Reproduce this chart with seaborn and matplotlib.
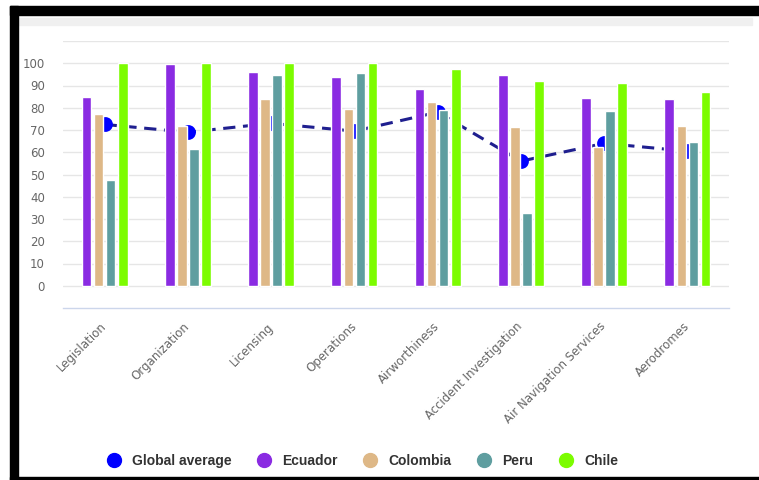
import numpy as np
import pandas as pd
import matplotlib
matplotlib.use("Agg")
import matplotlib.pyplot as plt
import seaborn as sns
from matplotlib.lines import Line2D
from matplotlib.patches import Rectangle

categories = ["Legislation", "Organization", "Licensing", "Operations",
              "Airworthiness", "Accident Investigation",
              "Air Navigation Services", "Aerodromes"]
ecuador = [85, 99.5, 96, 94, 88.5, 94.5, 84.5, 84]
colombia = [77, 72, 84, 79.5, 82.5, 71.5, 62.5, 72]
peru = [47.5, 61.5, 94.5, 95.5, 79, 32.5, 78.5, 64.5]
chile = [100, 100, 100, 100, 97.5, 92, 91, 87]
global_avg = [72.5, 69, 73, 69.5, 78, 56, 64, 60.5]

series_names = ["Ecuador", "Colombia", "Peru", "Chile"]
series_colors = ["#8a2be2", "#deb887", "#5f9ea0", "#7cfc00"]
avg_name = "Global average"
y_ticks = [0, 10, 20, 30, 40, 50, 60, 70, 80, 90, 100, 110]
y_labels = ["0", "10", "20", "30", "40", "50", "60", "70", "80", "90", "100", ""]

sns.set_style("white")
plt.rcParams["font.family"] = ["DejaVu Sans"]

W, H = 759, 480
fig = plt.figure(figsize=(W / 100, H / 100), dpi=100)
ax = fig.add_axes([63 / W, (H - 308) / H, (729 - 63) / W, (308 - 41) / H])

df = pd.DataFrame({
    "category": categories * 4,
    "value": ecuador + colombia + peru + chile,
    "country": np.repeat(series_names, len(categories)),
})
palette = dict(zip(series_names, series_colors))

avg_df = pd.DataFrame({"category": categories, "value": global_avg})
sns.pointplot(data=avg_df, x="category", y="value", order=categories,
              color="#0000ff", markers="o", linestyles="--", errorbar=None,
              ax=ax, markersize=9, linewidth=2.2)
for ln in ax.lines:
    ln.set_color("#1f1f8f")
    ln.set_markerfacecolor("#0000ff")
    ln.set_markeredgecolor("#0000ff")
    ln.set_dashes([4, 2.5])
    ln.set_zorder(1)
for coll in ax.collections:
    coll.set_zorder(1)

sns.barplot(data=df, x="category", y="value", hue="country", order=categories,
            hue_order=series_names, palette=palette, saturation=1,
            width=0.58, gap=0.2, errorbar=None, legend=False, ax=ax)
for p in ax.patches:
    p.set_zorder(2)

ax.set_xlim(-0.5, len(categories) - 0.5)
ax.set_ylim(-10, 110)
ax.set_yticks(y_ticks)
ax.set_yticklabels(y_labels)
ax.set_xlabel("")
ax.set_ylabel("")
ax.grid(axis="y", color="#e6e6e6", linewidth=1)
ax.set_axisbelow(True)
for s in ["left", "right", "top"]:
    ax.spines[s].set_visible(False)
ax.spines["bottom"].set_color("#ccd6eb")
ax.spines["bottom"].set_linewidth(1)

ax.tick_params(axis="y", length=0, pad=13, labelsize=8.5, labelcolor="#666666")
ax.set_xticks(range(len(categories)))
ax.set_xticklabels(categories, rotation=45, ha="right", va="center",
                   rotation_mode="anchor", color="#666666", fontsize=8.5)
ax.tick_params(axis="x", which="major", length=0, pad=12)
ax.set_xticks(np.arange(-0.5, len(categories), 1), minor=True)
ax.tick_params(axis="x", which="minor", length=7.5, width=1, color="#ccd6eb")

handles = [Line2D([], [], marker="o", linestyle="none", markersize=10,
                  color="#0000ff")]
for c in series_colors:
    handles.append(Line2D([], [], marker="o", linestyle="none", markersize=10,
                          color=c))
labels = [avg_name] + series_names
leg = fig.legend(handles, labels, loc="center", bbox_to_anchor=(359 / W, 19 / H),
                 ncol=5, frameon=False, handletextpad=0.3, columnspacing=1.35,
                 prop={"family": ["Liberation Sans", "DejaVu Sans"],
                       "weight": "bold", "size": 10})
for t in leg.get_texts():
    t.set_color("#333333")

# screenshot frame
fig.add_artist(Rectangle((10 / W, (H - 15) / H), 1 - 10 / W, 9 / H,
                         transform=fig.transFigure, color="black", zorder=10))
fig.add_artist(Rectangle((10 / W, 0), 8 / W, (H - 6) / H,
                         transform=fig.transFigure, color="black", zorder=10))
fig.add_artist(Rectangle((10 / W, 0), 1 - 10 / W, 3 / H,
                         transform=fig.transFigure, color="black", zorder=10))
fig.add_artist(Rectangle((18 / W, (H - 25) / H), (752 - 18) / W, 7 / H,
                         transform=fig.transFigure, color="#f0f0f0", zorder=5))

fig.savefig("out.png", dpi=100)
